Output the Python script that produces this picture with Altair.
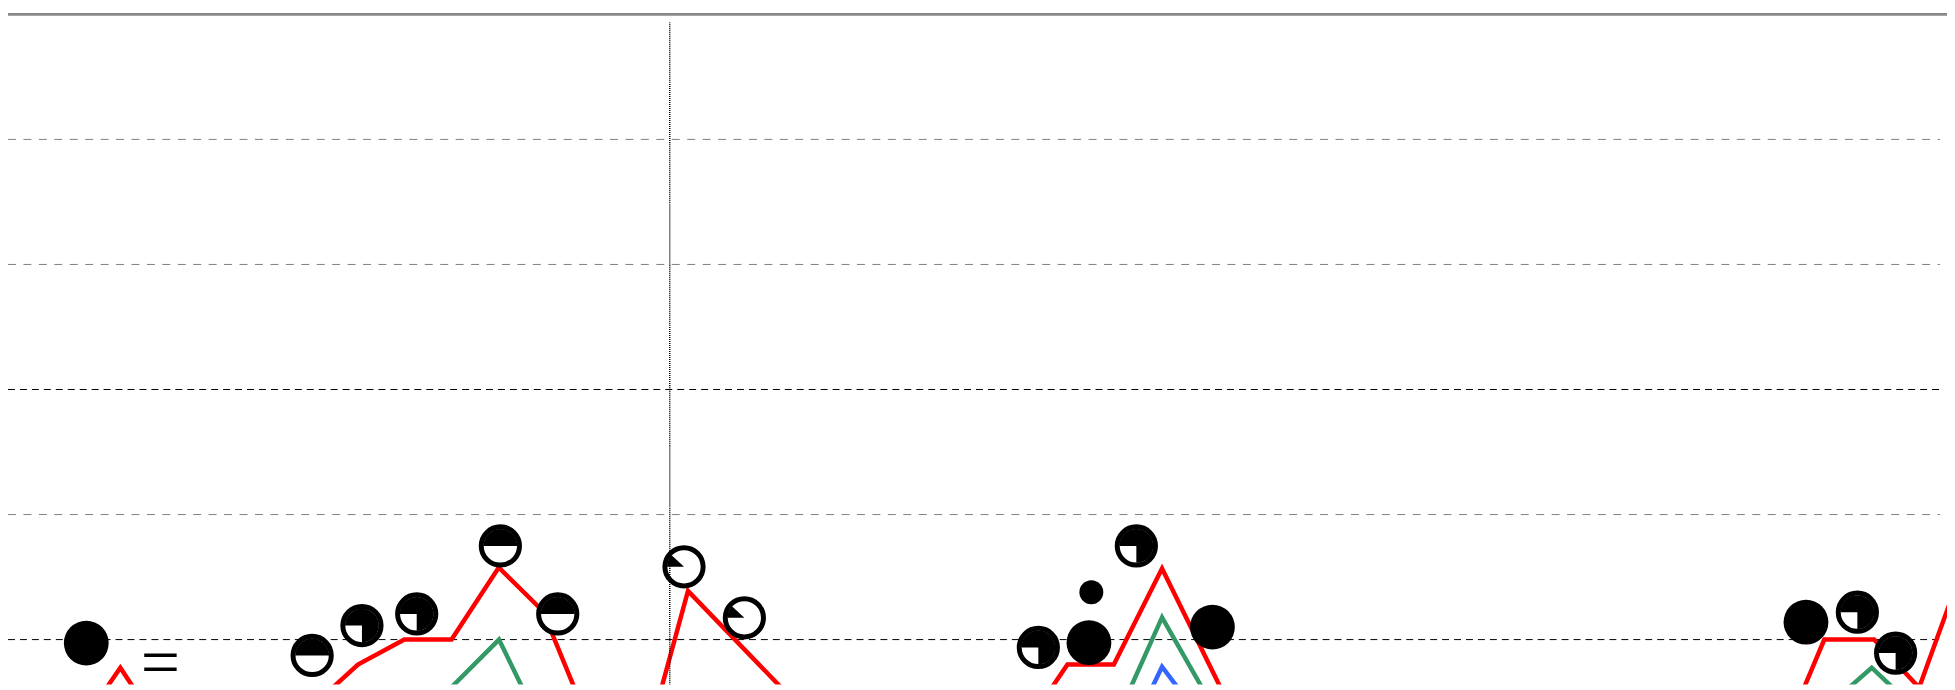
import altair as alt
import pandas as pd

# ---------------- data (x in 20-px units, y in grid units) ----------------
# Harvey-ball markers: centre and fill kind ("full" = solid disc)
ball_x = [3.93, 15.27, 17.77, 20.52, 24.72, 27.60, 33.94, 36.97,
          51.73, 54.27, 56.65, 60.47, 90.27, 92.85, 94.77]
ball_y = [-0.028, -0.127, 0.112, 0.205, 0.749, 0.205, 0.582, 0.174,
          -0.063, -0.025, 0.749, 0.100, 0.139, 0.219, -0.108]
ball_kind = ["full", "half", "three", "three", "half", "half", "eighth", "eighth",
             "three", "full", "three", "full", "full", "three", "three"]

# small solid dot
dot_x = [54.39]
dot_y = [0.378]

# line segments
red_0_x = [3.89, 5.64, 7.32]
red_0_y = [-0.631, -0.225, -0.631]
red_1_x = [14.60, 17.57, 19.90, 22.27, 24.64, 26.85, 29.07]
red_1_y = [-0.631, -0.200, 0.0, 0.0, 0.577, 0.229, -0.631]
red_2_x = [32.39, 34.14, 40.32]
red_2_y = [-0.631, 0.389, -0.631]
red_3_x = [51.35, 53.19, 55.52, 57.94, 61.64]
red_3_y = [-0.631, -0.200, -0.200, 0.568, -0.631]
red_4_x = [89.52, 91.19, 93.69, 95.95, 98.29]
red_4_y = [-0.631, 0.0, 0.0, -0.384, 0.643]
green_1_x = [20.70, 24.65, 26.58]
green_1_y = [-0.631, 0.0, -0.631]
green_2_x = [55.67, 57.94, 60.83]
green_2_y = [-0.631, 0.177, -0.631]
green_3_x = [90.67, 93.57, 96.27]
green_3_y = [-0.631, -0.225, -0.631]
blue_1_x = [56.70, 57.94, 59.89]
blue_1_y = [-0.631, -0.217, -0.631]

# reference lines and label
grid_dark = [0, 2]
grid_light = [1, 3, 4]
grid_x0, grid_x1 = 0.0, 97.0
marker_x = [33.225]
marker_top, marker_bottom = 4.936, -0.6
label_text = ["="]
label_x = [7.65]
label_y = [-0.205]

X_MAX = 97.35
Y_MIN, Y_MAX = -0.36, 5.0
W, H = 1947, 673

# wedge shapes (unit symbol space, start at 9 o'clock, clockwise)
KINDS = ["half", "three", "eighth"]
PATHS = ["M0,0 L-1,0 A1,1 0 0,1 1,0 Z",
         "M0,0 L-1,0 A1,1 0 1,1 0,1 Z",
         "M0,0 L-1,0 A1,1 0 0,1 -0.731,-0.682 Z"]

# ---------------- tables ----------------
segs = [("red", "r0", red_0_x, red_0_y), ("red", "r1", red_1_x, red_1_y),
        ("red", "r2", red_2_x, red_2_y), ("red", "r3", red_3_x, red_3_y),
        ("red", "r4", red_4_x, red_4_y), ("green", "g1", green_1_x, green_1_y),
        ("green", "g2", green_2_x, green_2_y), ("green", "g3", green_3_x, green_3_y),
        ("blue", "b1", blue_1_x, blue_1_y)]
rows = []
for s, sid, xs_, ys_ in segs:
    for a, b in zip(xs_, ys_):
        rows.append({"series": s, "seg": sid, "x": a, "y": b})
lines_df = pd.DataFrame(rows)
balls_df = pd.DataFrame({"x": ball_x, "y": ball_y, "kind": ball_kind})
dot_df = pd.DataFrame({"x": dot_x, "y": dot_y})
label_df = pd.DataFrame({"x": label_x, "y": label_y, "t": label_text})
gl_df = pd.DataFrame({"y": grid_light, "x": grid_x0, "x2": grid_x1})
gd_df = pd.DataFrame({"y": grid_dark, "x": grid_x0, "x2": grid_x1})
top_df = pd.DataFrame({"y": [Y_MAX], "x": [0.0], "x2": [X_MAX]})
vl_df = pd.DataFrame({"x": marker_x, "y": marker_top, "y2": marker_bottom})

xs = alt.Scale(domain=[0, X_MAX], nice=False, zero=False)
ys = alt.Scale(domain=[Y_MIN, Y_MAX], nice=False, zero=False)
X = alt.X("x:Q", scale=xs, axis=None)
Y = alt.Y("y:Q", scale=ys, axis=None)

grid_l = alt.Chart(gl_df).mark_rule(
    color="#808080", strokeWidth=1, strokeDash=[8, 7.5]).encode(
    x=X, x2="x2:Q", y=Y)
grid_d = alt.Chart(gd_df).mark_rule(
    color="#000000", strokeWidth=1, strokeDash=[7, 5]).encode(
    x=X, x2="x2:Q", y=Y)
top_line = alt.Chart(top_df).mark_rule(
    color="#888888", strokeWidth=3).encode(x=X, x2="x2:Q", y=Y)
vline = alt.Chart(vl_df).mark_rule(
    color="#000000", strokeWidth=1.5, strokeDash=[1, 1], clip=True).encode(
    x=X, y=Y, y2="y2:Q")

lines = alt.Chart(lines_df).mark_line(strokeWidth=4.5, clip=True, strokeJoin="miter").encode(
    x=X, y=Y,
    color=alt.Color("series:N", legend=None,
                    scale=alt.Scale(domain=["red", "green", "blue"],
                                    range=["#ff0000", "#339966", "#3366ff"])),
    detail="seg:N")

harvey = alt.Chart(balls_df).transform_filter("datum.kind != 'full'")

rings = harvey.mark_point(
    shape="circle", filled=True, fill="#ffffff", stroke="#000000",
    strokeWidth=5, size=1475, opacity=1).encode(x=X, y=Y)

wedges = harvey.mark_point(
    filled=True, color="#000000", size=1156, opacity=1, strokeWidth=0).encode(
    x=X, y=Y,
    shape=alt.Shape("kind:N", legend=None,
                    scale=alt.Scale(domain=KINDS, range=PATHS)))

discs = alt.Chart(balls_df).transform_filter("datum.kind == 'full'").mark_point(
    shape="circle", filled=True, color="#000000", size=2025, opacity=1,
    strokeWidth=0).encode(x=X, y=Y)

dots = alt.Chart(dot_df).mark_point(
    shape="circle", filled=True, color="#000000", size=576, opacity=1,
    strokeWidth=0).encode(x=X, y=Y)

label = alt.Chart(label_df).mark_text(
    font="Liberation Serif", fontSize=70, color="#000000",
    align="center", baseline="middle").encode(x=X, y=Y, text="t:N")

chart = alt.layer(grid_l, grid_d, top_line, lines, rings, wedges, discs, dots,
                  vline, label).properties(
    width=W, height=H,
    padding={"top": 5, "left": 0, "right": 0, "bottom": 0},
    autosize=alt.AutoSizeParams(type="none"),
    background="#ffffff",
).configure_view(strokeWidth=0)

chart.save("out.html", embed_options={"renderer": "svg", "actions": False})
